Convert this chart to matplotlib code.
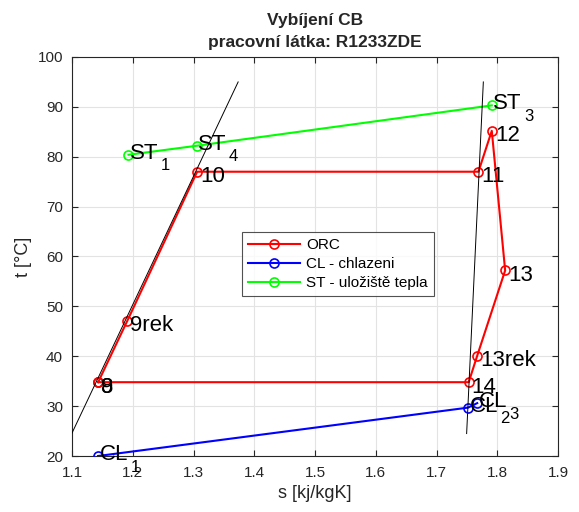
import matplotlib
matplotlib.use("Agg")
import matplotlib.pyplot as plt

plt.rcParams['font.family'] = ['Liberation Sans', 'DejaVu Sans']

# ORC cycle states (path closes back at state 8)
orc_labels = ['8', '9', '9rek', '10', '11', '12', '13', '13rek', '14']
orc_s = [1.143, 1.143, 1.191, 1.306, 1.769, 1.791, 1.813, 1.767, 1.753, 1.143]
orc_t = [34.8, 34.8, 47.1, 77.0, 77.0, 85.2, 57.2, 40.1, 34.8, 34.8]

# cooling loop
cl_names = ['CL', 'CL', 'CL']
cl_subs = ['1', '2', '3']
cl_s = [1.143, 1.752, 1.767]
cl_t = [20.0, 29.7, 30.6]

# heat storage loop
st_names = ['ST', 'ST', 'ST']
st_subs = ['1', '4', '3']
st_s = [1.193, 1.305, 1.791]
st_t = [80.4, 82.2, 90.3]

# saturation lines
sat_liq_s = [1.100, 1.3735]
sat_liq_t = [24.6, 95.0]
sat_vap_s = [1.7496, 1.7771]
sat_vap_t = [24.5, 95.0]

DPI = 100
PT = DPI / 72.0

fig = plt.figure(figsize=(5.79, 5.12), dpi=DPI)
ax = fig.add_axes([72 / 579, 1 - 456 / 512, 486 / 579, 399 / 512])

mk = dict(marker='o', lw=1.5, ms=6.5, mfc='none', mew=1.2, zorder=3)
ax.plot(orc_s, orc_t, color='red', label='ORC', **mk)
ax.plot(cl_s, cl_t, color='blue', label='CL - chlazeni', **mk)
ax.plot(st_s, st_t, color='#00ff00', label='ST - uložiště tepla', **mk)
ax.plot(sat_liq_s, sat_liq_t, color='black', lw=0.7, zorder=4)
ax.plot(sat_vap_s, sat_vap_t, color='black', lw=0.7, zorder=4)

LABEL_FS = 16
SUB_FS = 12

# plain state numbers
for lab, x, y in zip(orc_labels, orc_s, orc_t):
    ax.annotate(lab, (x, y), xytext=(3 / PT, -10.5 / PT), textcoords='offset points',
                ha='left', va='baseline', fontsize=LABEL_FS, color='black', zorder=5)

# names with subscripts
subscripted = []
for names, subs, xs, ys in ((cl_names, cl_subs, cl_s, cl_t), (st_names, st_subs, st_s, st_t)):
    for name, sub, x, y in zip(names, subs, xs, ys):
        t = ax.annotate(name, (x, y), xytext=(1.5 / PT, -4 / PT), textcoords='offset points',
                        ha='left', va='baseline', fontsize=LABEL_FS, color='black', zorder=5)
        subscripted.append((t, sub, x, y))

ax.set_xlim(1.1, 1.9)
ax.set_ylim(20, 100)
ax.set_xticks([1.1 + 0.1 * i for i in range(9)])
ax.set_xticklabels(['1.1', '1.2', '1.3', '1.4', '1.5', '1.6', '1.7', '1.8', '1.9'])
ax.set_yticks(range(20, 101, 10))
ax.grid(True, color='#e3e3e3', lw=0.8)
ax.set_axisbelow(True)
ax.tick_params(direction='in', top=True, right=True, labelsize=11, colors='#262626', length=4)
ax.tick_params(axis='x', pad=7)
ax.tick_params(axis='y', pad=6.5)
for sp in ax.spines.values():
    sp.set_color('#262626')
    sp.set_linewidth(0.8)

ax.set_xlabel('s [kj/kgK]', fontsize=13, color='#262626', labelpad=4)
ax.set_ylabel('t [°C]', fontsize=13, color='#262626', labelpad=4)
ax.set_title('Vybíjení CB\npracovní látka: R1233ZDE', fontsize=12.5, fontweight='bold',
             color='#262626', linespacing=1.55, pad=7.5)

leg = ax.legend(loc='upper left', bbox_to_anchor=(0.35, 0.561), borderaxespad=0, fontsize=11,
                frameon=True, fancybox=False, edgecolor='#262626', handlelength=3.4,
                borderpad=0.4, labelspacing=0.32, handletextpad=0.4)
leg.get_frame().set_linewidth(0.8)

# subscripts placed just after their base text
fig.canvas.draw()
renderer = fig.canvas.get_renderer()
for t, sub, x, y in subscripted:
    bb = t.get_window_extent(renderer)
    px, py = ax.transData.transform((x, y))
    ax.annotate(sub, (x, y), xytext=((bb.x1 - px + 2.5) / PT, -15.7 / PT),
                textcoords='offset points', ha='left', va='baseline',
                fontsize=SUB_FS, color='black', zorder=5)

fig.savefig('out.png', dpi=DPI)
